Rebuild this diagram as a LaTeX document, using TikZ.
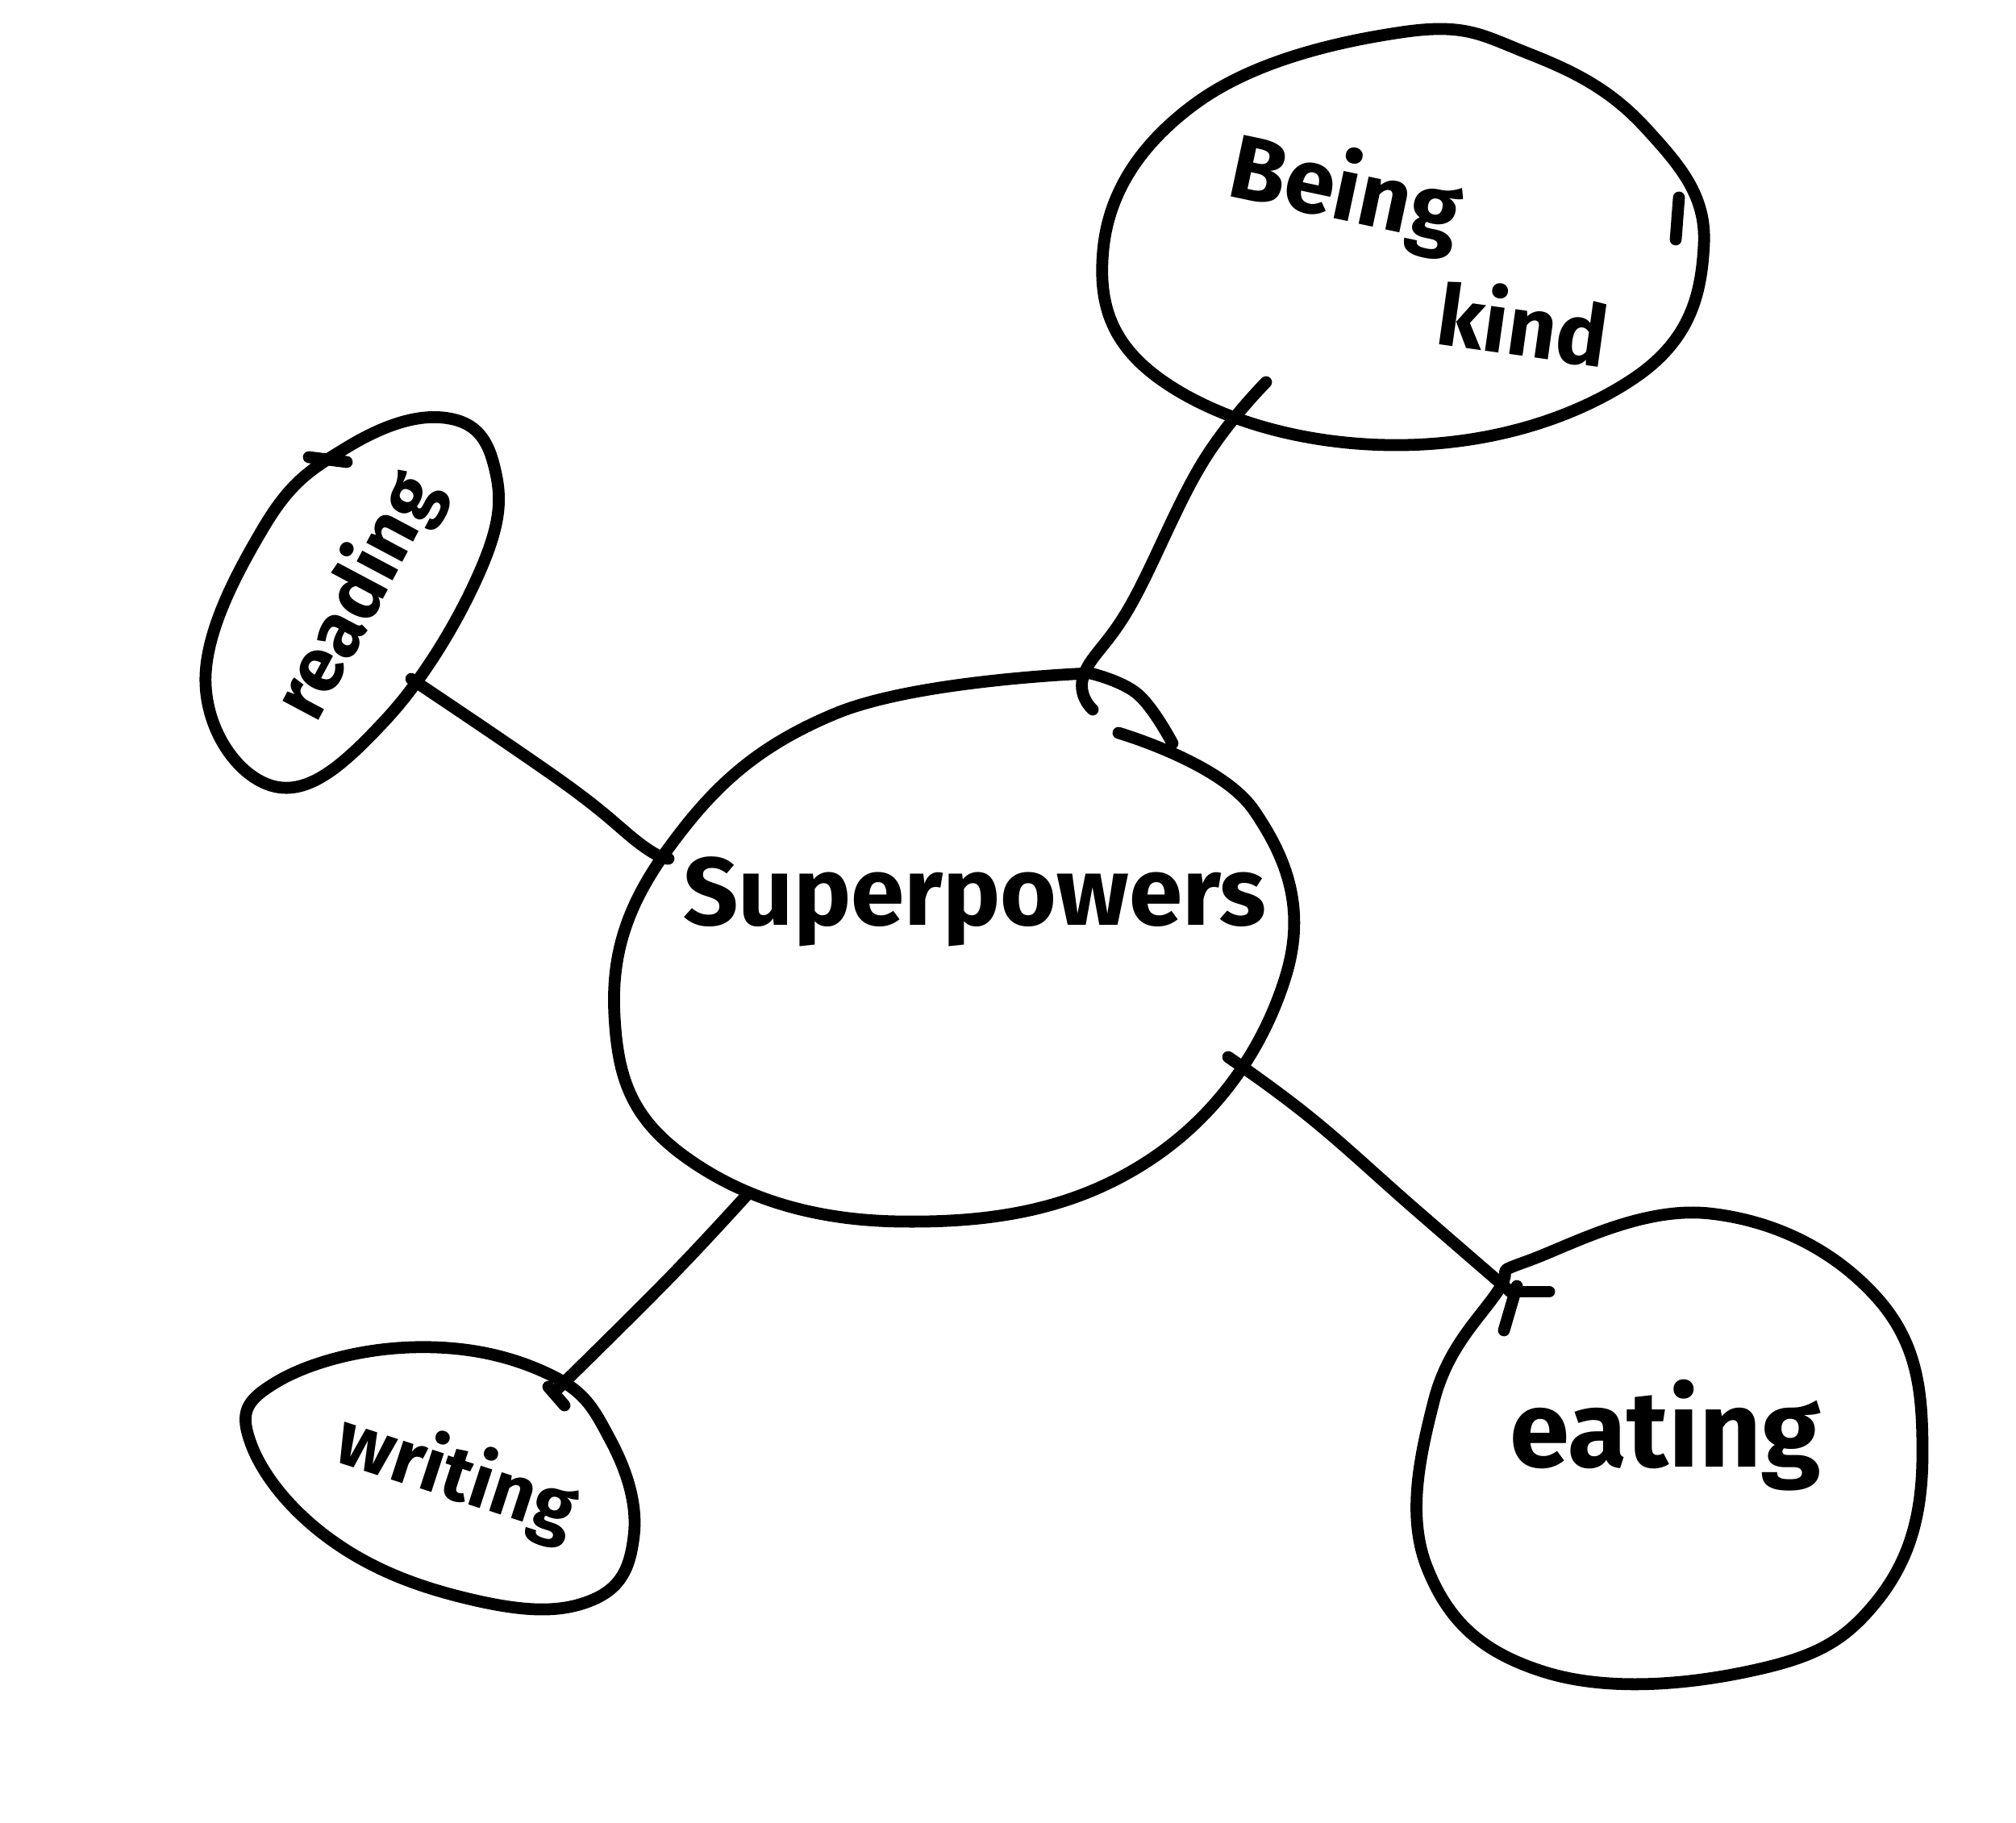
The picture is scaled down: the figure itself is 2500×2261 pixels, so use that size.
\documentclass[tikz,border=0pt]{standalone}
\usepackage{fontspec}
\setmainfont{Fira Sans}
\begin{document}
\begin{tikzpicture}[x=0.01cm,y=-0.01cm,
  ink/.style={line width=4.2pt,line cap=round,line join=round,black},
  blob/.style={ink},
  link/.style={ink},
  label/.style={inner sep=0pt,font=\bfseries}]
\useasboundingbox[fill=white] (0,0) rectangle (2500,2261);

% ---- central blob: Superpowers
\draw[blob] plot[smooth,tension=0.7] coordinates {(1352,835) (1036,885) (829,1052) (762,1260) (850,1435) (1116,1515) (1419,1443) (1594,1212) (1555,1005) (1387,909)};
\draw[blob] plot[smooth,tension=0.7] coordinates {(1352,835) (1411,861) (1454,922)};
\node[label,font=\bfseries\fontsize{34}{40}\selectfont] (super) at (1209,1118) {Superpowers};

% ---- Being kind
\draw[blob] plot[smooth cycle,tension=0.7] coordinates {(1738,40) (1483,128) (1368,310) (1450,478) (1740,552) (2025,470) (2113,303) (2041,159) (1897,67)};
\draw[ink] (2082,245) -- (2078,297);
\node[label,rotate=-12,font=\bfseries\fontsize{32}{38}\selectfont] (being) at (1668,240) {Being};
\node[label,rotate=-8,font=\bfseries\fontsize{30}{36}\selectfont] (kind) at (1889,400) {kind};

% ---- reading
\draw[blob] plot[smooth cycle,tension=0.7] coordinates {(550,518) (430,555) (327,654) (255,850) (343,976) (478,893) (598,702) (612,575)};
\node[label,rotate=62,font=\bfseries\fontsize{27}{32}\selectfont] (reading) at (445,740) {reading};

% ---- writing
\draw[blob] plot[smooth cycle,tension=0.7] coordinates {(343,1714) (510,1671) (678,1703) (757,1786) (786,1905) (733,1985) (590,1985) (415,1913) (311,1790)};
\node[label,rotate=-18,font=\bfseries\fontsize{27}{32}\selectfont] (writing) at (566,1832) {writing};

% ---- eating
\draw[blob] plot[smooth cycle,tension=0.7] coordinates {(1897,1563) (2120,1505) (2328,1610) (2384,1802) (2328,1985) (2168,2073) (1913,2073) (1770,1945) (1778,1738) (1857,1602)};
\node[label,font=\bfseries\fontsize{38}{44}\selectfont] (eating) at (2065,1780) {eating};

% ---- connector end points
\coordinate (kindEnd) at (1570,474);
\coordinate (kindJoin) at (1355,880);
\coordinate (readEnd) at (510,842);
\coordinate (readJoin) at (829,1065);
\coordinate (writeJoin) at (928,1480);
\coordinate (writeEnd) at (689,1725);
\coordinate (eatJoin) at (1523,1311);
\coordinate (eatEnd) at (1873,1602);

% ---- connectors
\draw[link] plot[smooth,tension=0.7] coordinates {(kindEnd) (1491,574) (1403,749) (1344,837) (kindJoin)};
\draw[link] plot[smooth,tension=0.7] coordinates {(readEnd) (702,973) (797,1049) (readJoin)};
\draw[link] plot[smooth,tension=0.7] coordinates {(writeJoin) (829,1586) (writeEnd)};
\draw[ink] (680,1720) -- (700,1743);
\draw[link] plot[smooth,tension=0.7] coordinates {(eatJoin) (1626,1387) (1754,1499) (eatEnd)};
\draw[ink] (1865,1650) -- (1881,1595);
\draw[ink] (1878,1602) -- (1921,1602);
\draw[ink] (383,567) -- (430,573);
\end{tikzpicture}
\end{document}
